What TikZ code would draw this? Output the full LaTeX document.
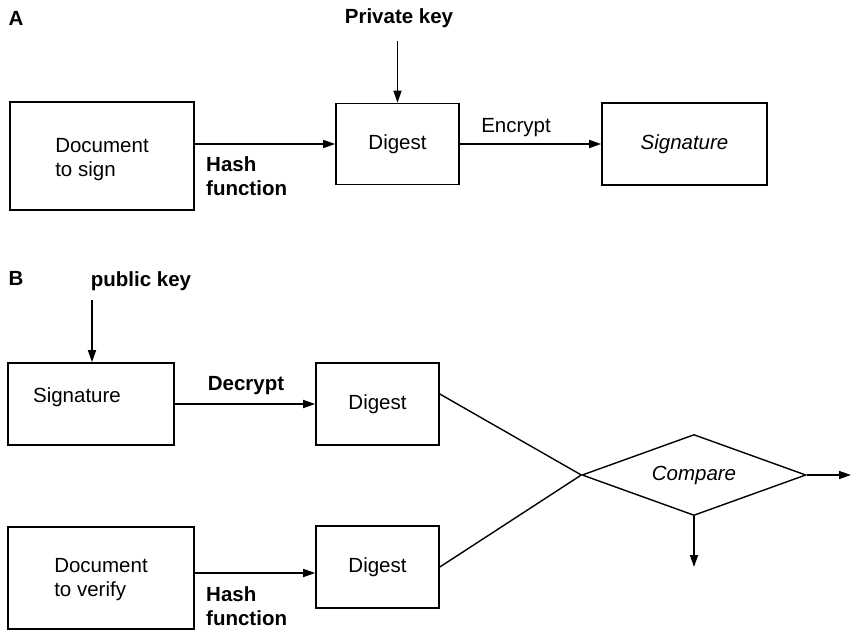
\documentclass[tikz,border=0pt]{standalone}
\usepackage{fontspec}
\setmainfont{Liberation Sans}
\usetikzlibrary{arrows.meta,shapes.geometric}
\tikzset{
  base/.style={font=\fontsize{20.5}{24}\selectfont},
  box/.style={base,draw,line width=1.6pt,rectangle,inner sep=0pt},
  lbl/.style={base,inner sep=0pt,align=left},
  blbl/.style={lbl,font=\fontsize{20.5}{24}\selectfont\bfseries},
  arr/.style={line width=1.4pt,-{Triangle[length=12pt,width=8pt]}},
  conn/.style={line width=1.4pt}
}
\begin{document}
\begin{tikzpicture}[x=1pt,y=-1pt]
\useasboundingbox (0,0) rectangle (852,630);
% Panel A
\node[blbl] (labA) at (16,18) {A};
\node[box,minimum width=184pt,minimum height=108pt,
  label={[base,align=left,yshift=-4pt]center:Document\\to sign}] (docA) at (102,156) {};
\node[box,minimum width=123pt,minimum height=81pt] (digA) at (397.5,144) {Digest};
\node[box,minimum width=165pt,minimum height=82pt] (sigA) at (684.5,144) {\itshape Signature};
\node[blbl] (pk) at (399,18) {Private key};
\node[blbl,anchor=west] (hashA) at (206,176.5) {Hash\\function};
\node[lbl] (enc) at (516,128) {Encrypt};
\draw[arr,shorten <=13pt] (pk.south -| digA.north) -- (digA.north);
\draw[arr] (docA.east |- digA.west) -- (digA.west);
\draw[arr] (digA.east) -- (sigA.west);
% Panel B
\node[blbl] (labB) at (16,278) {B};
\node[blbl] (pubk) at (141,281) {public key};
\node[box,minimum width=166pt,minimum height=82pt,
  label={[base,xshift=-14pt,yshift=7pt]center:Signature}] (sigB) at (91,404) {};
\node[box,minimum width=123pt,minimum height=82pt] (digB1) at (377.5,404) {Digest};
\node[box,minimum width=186pt,minimum height=102pt,
  label={[base,align=left,yshift=-2pt]center:Document\\to verify}] (docB) at (101,578) {};
\node[box,minimum width=123pt,minimum height=82pt] (digB2) at (377.5,567) {Digest};
\node[blbl] (dec) at (246,386) {Decrypt};
\node[blbl,anchor=west] (hashB) at (206,606.5) {Hash\\function};
\node[base,draw,line width=1.4pt,diamond,aspect=2.77,inner sep=0pt,
  minimum width=224pt,minimum height=81pt] (cmp) at (694,475) {\itshape Compare};
\coordinate (outR) at (851,475);
\coordinate (outD) at (694,567);
\draw[arr,shorten <=9pt] ([xshift=1pt]pubk.south -| sigB.north) -- ([xshift=1pt]sigB.north);
\draw[arr] (sigB.east) -- (digB1.west);
\draw[arr] ([yshift=5pt]docB.east) -- ([yshift=5pt]docB.east -| digB2.west);
\draw[conn] ([yshift=10pt]digB1.east) -- (cmp.west);
\draw[conn] (digB2.east) -- (cmp.west);
\draw[arr] (cmp.east) -- (outR);
\draw[arr] (cmp.south) -- (outD);
\end{tikzpicture}
\end{document}
